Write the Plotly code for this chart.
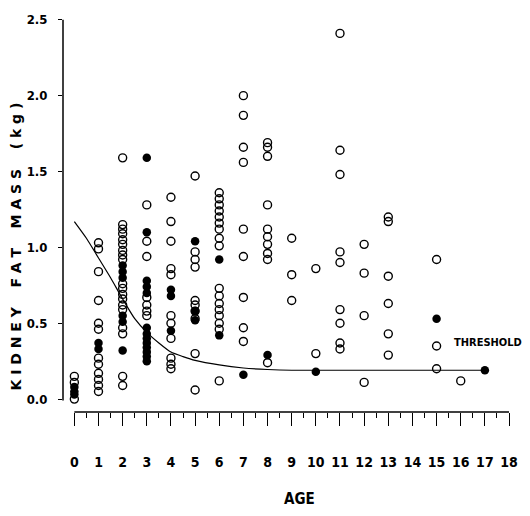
import plotly.graph_objects as go

# ---- data ----
open_ages = ([0]*3 + [1]*12 + [2]*19 + [3]*7 + [4]*11 + [5]*10 + [6]*17 + [7]*9 + [8]*10
             + [9]*3 + [10]*2 + [11]*9 + [12]*4 + [13]*6 + [15]*3 + [16]*1)
open_mass = ([0.15, 0.11, 0.0]
             + [1.03, 0.99, 0.84, 0.65, 0.5, 0.46, 0.27, 0.23, 0.17, 0.13, 0.09, 0.05]
             + [1.59, 1.15, 1.12, 1.09, 1.05, 1.02, 0.98, 0.95, 0.92, 0.76, 0.73, 0.69, 0.66, 0.62, 0.59, 0.47, 0.43, 0.15, 0.09]
             + [1.28, 1.04, 0.94, 0.67, 0.62, 0.58, 0.55]
             + [1.33, 1.17, 1.04, 0.86, 0.82, 0.55, 0.5, 0.4, 0.27, 0.23, 0.2]
             + [1.47, 0.97, 0.92, 0.87, 0.65, 0.62, 0.58, 0.53, 0.3, 0.06]
             + [1.36, 1.32, 1.28, 1.24, 1.2, 1.16, 1.12, 1.06, 1.01, 0.73, 0.68, 0.63, 0.59, 0.55, 0.5, 0.46, 0.12]
             + [2.0, 1.87, 1.66, 1.56, 1.12, 0.94, 0.67, 0.47, 0.38]
             + [1.69, 1.66, 1.6, 1.28, 1.12, 1.07, 1.02, 0.96, 0.92, 0.24]
             + [1.06, 0.82, 0.65]
             + [0.86, 0.3]
             + [2.41, 1.64, 1.48, 0.97, 0.9, 0.59, 0.5, 0.37, 0.33]
             + [1.02, 0.83, 0.55, 0.11]
             + [1.2, 1.17, 0.81, 0.63, 0.43, 0.29]
             + [0.92, 0.35, 0.2]
             + [0.12])

filled_ages = ([0]*3 + [1]*2 + [2]*6 + [3]*13 + [4]*3 + [5]*3 + [6]*2 + [7] + [8] + [10] + [15] + [17])
filled_mass = ([0.08, 0.05, 0.03]
               + [0.37, 0.33]
               + [0.88, 0.84, 0.8, 0.55, 0.51, 0.32]
               + [1.59, 1.1, 0.78, 0.74, 0.7, 0.47, 0.43, 0.4, 0.37, 0.34, 0.31, 0.28, 0.25]
               + [0.72, 0.68, 0.45]
               + [1.04, 0.58, 0.52]
               + [0.92, 0.42]
               + [0.16]
               + [0.29]
               + [0.18]
               + [0.53]
               + [0.19])

curve_age = [0, 0.5, 1, 1.5, 2, 2.5, 3, 3.5, 4, 4.5, 5, 6, 7, 8, 9, 17]
curve_mass = [1.17, 1.06, 0.93, 0.80, 0.66, 0.53, 0.44, 0.37, 0.31, 0.28, 0.255, 0.225, 0.205, 0.195, 0.19, 0.19]

x_ticks = list(range(0, 19))
y_ticks = [0.0, 0.5, 1.0, 1.5, 2.0, 2.5]

NARROW = "DejaVu Sans Condensed, Roboto Condensed, Liberation Sans Narrow, Arial Narrow, sans-serif"

fig = go.Figure()
fig.add_trace(go.Scatter(x=curve_age, y=curve_mass, mode="lines",
                         line=dict(color="black", width=1.2, shape="spline", smoothing=0.6),
                         hoverinfo="skip", showlegend=False))
fig.add_trace(go.Scatter(x=open_ages, y=open_mass, mode="markers",
                         marker=dict(symbol="circle-open", size=8, color="black",
                                     line=dict(width=1.4, color="black")),
                         showlegend=False))
fig.add_trace(go.Scatter(x=filled_ages, y=filled_mass, mode="markers",
                         marker=dict(symbol="circle", size=8.5, color="black"),
                         showlegend=False))

fig.update_layout(
    width=530, height=516,
    margin=dict(l=63, r=15, t=15, b=104),
    paper_bgcolor="white", plot_bgcolor="white",
    xaxis=dict(range=[-0.47, 18.04], showgrid=False, zeroline=False, showline=False,
               tickmode="array", tickvals=x_ticks, ticktext=[str(v) for v in x_ticks],
               ticks="outside", ticklen=13, tickwidth=1.3, tickcolor="black",
               minor=dict(dtick=0.5, ticks="outside", ticklen=5, tickwidth=1, tickcolor="black"),
               ticklabelstandoff=24,
               tickfont=dict(family=NARROW, size=14, color="black", weight="bold")),
    yaxis=dict(range=[-0.085, 2.505], showgrid=False, zeroline=False, showline=False,
               tickmode="array", tickvals=y_ticks, ticktext=[f"{v:.1f}" for v in y_ticks],
               ticks="outside", ticklen=4, tickwidth=1.2, tickcolor="black",
               ticklabelstandoff=8,
               tickfont=dict(family=NARROW, size=13, color="black", weight="bold")),
    shapes=[
        dict(type="line", xref="x", yref="paper", x0=0, x1=18, y0=0, y1=0,
             line=dict(color="black", width=1.5)),
        dict(type="line", xref="paper", yref="y", x0=0, x1=0, y0=-0.01, y1=2.5,
             line=dict(color="black", width=1.5)),
    ],
    annotations=[
        dict(text="K I D N E Y    F A T    M A S S    ( k g )", xref="paper", yref="paper",
             x=-0.106, y=0.42, xanchor="center", yanchor="middle", textangle=-90, showarrow=False,
             font=dict(family="DejaVu Sans", size=14, color="black", weight="bold")),
        dict(text="AGE", xref="paper", yref="paper", x=0.529, y=-0.222,
             xanchor="center", yanchor="middle",
             showarrow=False, font=dict(family=NARROW, size=15, color="black", weight="bold")),
        dict(text="THRESHOLD", xref="x", yref="y", x=15.62, y=0.37, xanchor="left",
             showarrow=False, font=dict(family=NARROW, size=11, color="black", weight="bold")),
    ],
)

fig.write_html("out.html")
